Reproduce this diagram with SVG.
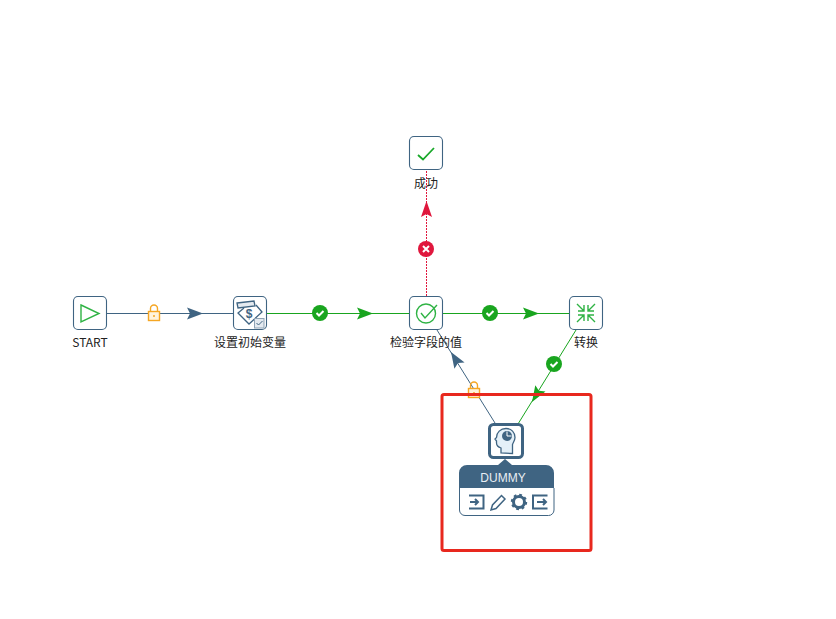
<svg xmlns="http://www.w3.org/2000/svg" width="836" height="619" viewBox="0 0 836 619">
<defs>
<style>
.box{fill:#fff;stroke:#3f6482;stroke-width:1.1}
.lbl{font-family:"Noto Sans CJK SC","Liberation Sans",sans-serif;font-size:12px;fill:#222;text-anchor:middle}
.gi{fill:none;stroke:#2fb344;stroke-width:1.4}
.bi{fill:none;stroke:#3f6482;stroke-width:2}
.ok{stroke:#19a51f;stroke-width:1;fill:none}
.hop{stroke:#3f6482;stroke-width:1;fill:none}
.err{stroke:#e0173d;stroke-width:1;fill:none;stroke-dasharray:2 1}
.tick{fill:none;stroke:#fff;stroke-width:2}
</style>
<g id="lock"><rect x="-5.500" y="-1.500" width="11" height="9" fill="#fff3dc" stroke="#f5a623" stroke-width="1.400"/><path d="M-3.500-1.500v-3a3.500 3.500 0 0 1 7 0v3" fill="none" stroke="#f5a623" stroke-width="1.400"/><circle cx="0" cy="3" r="1" fill="#f5a623"/></g>
<g id="okb"><circle r="8" fill="#19a51f"/><path class="tick" d="M-3.500 0l2.500 2.500l4.500-4.500"/></g>
</defs>
<rect width="836" height="619" fill="#fff"/>
<g id="connectors">
<path class="hop" d="M107 313.500H233"/><path d="M187 307.500l16 6l-16 6l3-6z" fill="#3f6482"/>
<use href="#lock" x="154" y="313"/>
<path class="ok" d="M267 313.500H409"/><path d="M357 307.500l16 6l-16 6l3-6z" fill="#19a51f"/>
<use href="#okb" x="320" y="313"/>
<path class="ok" d="M443 313.500H569"/><path d="M523 307.500l16 6l-16 6l3-6z" fill="#19a51f"/>
<use href="#okb" x="490" y="313"/>
<path class="err" d="M426.500 296V170"/><path d="M421 217l5.500-16l5.500 16l-5.500-3z" fill="#e0173d"/>
<circle cx="426" cy="249" r="8" fill="#e0173d"/><path d="M423 246l6 6m0-6l-6 6" stroke="#fff" stroke-width="2" fill="none"/>
<path class="ok" d="M576 330L518 424"/><path d="M532 402l3.300-16.800l3.600 5.600l6.600 .8z" fill="#19a51f"/>
<use href="#okb" x="554" y="364"/>
<path class="hop" d="M495 423L437 330"/><path d="M451 352l13.600 10.400l-6.600 .6l-3.600 5.800z" fill="#3f6482"/>
<use href="#lock" x="474" y="390"/>
</g>
<g id="start"><rect class="box" x="73.500" y="296.500" width="33" height="33" rx="4.500"/><path d="M81 305l18 8.500l-18 8.500z" class="gi" stroke-width="1.800"/><text class="lbl" x="90" y="347">START</text></g>
<g id="setvar"><rect class="box" x="233.500" y="296.500" width="33" height="33" rx="4.500"/><path d="M237 303l17-2l1 5l-17 2z" fill="#e4eaf0" stroke="#3f6482" stroke-width="1.300"/><path d="M244 308l-6 5l11 11l13-12l-6-7" fill="none" stroke="#3f6482" stroke-width="1.300"/><text x="249" y="318" font-family="Liberation Sans,sans-serif" font-size="12" font-weight="bold" fill="#3f6482" text-anchor="middle">$</text><rect x="254.500" y="318.500" width="9.500" height="9.500" fill="#e4eaf0" stroke="#8fa3b5"/><path d="M256.500 323l2 2l4-4" fill="none" stroke="#3f6482"/><text class="lbl" x="250" y="347">设置初始变量</text></g>
<g id="check"><rect class="box" x="409.500" y="296.500" width="33" height="33" rx="4.500"/><circle class="gi" cx="426" cy="313.500" r="9.500"/><path class="gi" d="M421 313l4 5l12-13"/><text class="lbl" x="426" y="347">检验字段的值</text></g>
<g id="success"><rect class="box" x="409.500" y="136.500" width="33" height="33" rx="4.500"/><path d="M418 155l5 4.500l11-11.500" fill="none" stroke="#19a82a" stroke-width="1.800"/><text class="lbl" x="426" y="188">成功</text></g>
<g id="transform"><rect class="box" x="569.500" y="296.500" width="33" height="33" rx="4.500"/><path class="gi" d="M577 304l7 7m0-6v6h-6M595 304l-7 7m0-6v6h6M577 322l7-7m0 6v-6h-6M595 322l-7-7m0 6v-6h6"/><text class="lbl" x="586" y="347">转换</text></g>
<rect x="442" y="394.500" width="149" height="156" rx="2" fill="none" stroke="#e8281e" stroke-width="3"/>
<g id="dummy"><rect x="489.500" y="424.500" width="33" height="33" rx="4" fill="#fff" stroke="#3f6482" stroke-width="3"/>
<path d="M501 453v-5c-3-1-4.500-3-4.500-5v-2l-1.500-2l1.500-1.500c0-5 4-9 9.500-9c5.500 0 9 4 9 9c0 3-2 5-2.500 7v9z" fill="#e4f0f8" stroke="#3f6482" stroke-width="1.300"/><circle cx="507" cy="436" r="5" fill="#3f6482"/><path d="M507 431.500v4.500h4.500" fill="none" stroke="#fff"/>
<path d="M459 488v-15a8 8 0 0 1 8-8h31l7-6l7 6h34a8 8 0 0 1 8 8v15z" fill="#3f6482"/>
<path d="M459.500 488v22a5.500 5.500 0 0 0 5.500 5.500h83.500a5.500 5.500 0 0 0 5.500-5.500v-22" fill="#fff" stroke="#3f6482"/>
<text x="503" y="482" font-family="Liberation Sans,sans-serif" font-size="12" fill="#e8eef3" text-anchor="middle">DUMMY</text>
<path class="bi" d="M469 495.500h14.500v13h-14.500M470 502h8m-3-3l3 3l-3 3"/>
<path d="M491 510l1.500-5l9-9.500l3.500 3.500l-9 9.500z" fill="none" stroke="#3f6482" stroke-width="1.500"/>
<circle cx="519" cy="502" r="5.500" fill="none" stroke="#3f6482" stroke-width="3"/><circle cx="519" cy="502" r="7.200" fill="none" stroke="#3f6482" stroke-width="2" stroke-dasharray="2.800 2.850"/>
<path class="bi" d="M547.500 495.500h-14.500v13h14.500M537 502h9m-3-3l3 3l-3 3"/></g>
</svg>
